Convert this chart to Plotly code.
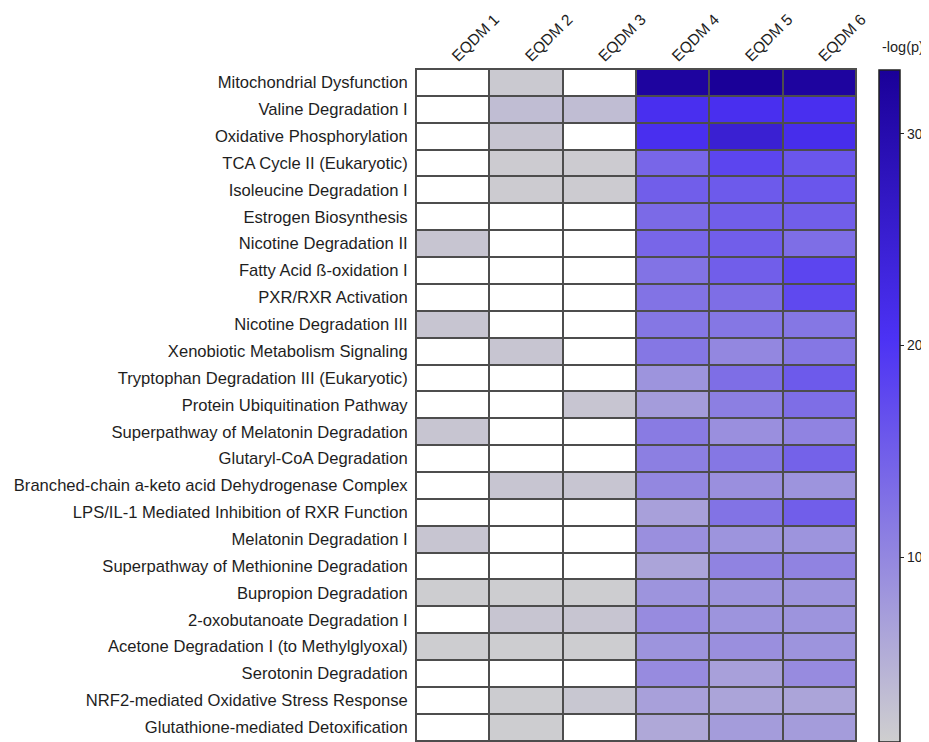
import plotly.graph_objects as go

pathways = [
    "Mitochondrial Dysfunction",
    "Valine Degradation I",
    "Oxidative Phosphorylation",
    "TCA Cycle II (Eukaryotic)",
    "Isoleucine Degradation I",
    "Estrogen Biosynthesis",
    "Nicotine Degradation II",
    "Fatty Acid ß-oxidation I",
    "PXR/RXR Activation",
    "Nicotine Degradation III",
    "Xenobiotic Metabolism Signaling",
    "Tryptophan Degradation III (Eukaryotic)",
    "Protein Ubiquitination Pathway",
    "Superpathway of Melatonin Degradation",
    "Glutaryl-CoA Degradation",
    "Branched-chain a-keto acid Dehydrogenase Complex",
    "LPS/IL-1 Mediated Inhibition of RXR Function",
    "Melatonin Degradation I",
    "Superpathway of Methionine Degradation",
    "Bupropion Degradation",
    "2-oxobutanoate Degradation I",
    "Acetone Degradation I (to Methylglyoxal)",
    "Serotonin Degradation",
    "NRF2-mediated Oxidative Stress Response",
    "Glutathione-mediated Detoxification",
]

samples = ["EQDM 1", "EQDM 2", "EQDM 3", "EQDM 4", "EQDM 5", "EQDM 6"]

N = None
eqdm1 = [N, N, N, N, N, N, 2.5, N, N, 2.5, N, N, N, 2.5, N, N, N, 2.5, N, 1.6, N, 1.6, N, N, N]
eqdm2 = [2.0, 3.5, 2.5, 1.8, 1.8, N, N, N, N, N, 2.5, N, N, N, N, 2.5, N, N, N, 1.6, 2.5, 1.6, N, 1.7, 1.6]
eqdm3 = [N, 3.5, N, 1.8, 1.8, N, N, N, N, N, N, N, 2.5, N, N, 2.5, N, N, N, 1.6, 2.5, 1.6, N, 2.3, N]
eqdm4 = [32, 21, 21, 14, 15, 13.5, 14, 12.5, 12.5, 12, 12, 8.5, 7.5, 11.5, 11, 10, 7, 9, 6.5, 8.5, 9.5, 8.5, 9.5, 7, 6]
eqdm5 = [33, 21, 25, 18, 15.5, 15, 15, 15, 13, 12, 10, 13, 11, 9, 12, 9, 12.5, 8.5, 10.5, 8.5, 8.5, 9, 7, 6.5, 7.5]
eqdm6 = [32, 21, 21.5, 16, 16, 15, 13, 18, 17.5, 12, 12, 15.5, 13, 10.5, 14.5, 8.5, 15, 8.5, 10.5, 8.5, 8.5, 8.5, 9.5, 6.5, 7.5]

cols = [eqdm1, eqdm2, eqdm3, eqdm4, eqdm5, eqdm6]
z = [[cols[c][r] for c in range(len(samples))] for r in range(len(pathways))]
z_blank = [[1 if cols[c][r] is None else None for c in range(len(samples))] for r in range(len(pathways))]

FONT = "Liberation Sans, Arial, Helvetica, sans-serif"
GRID = "#4d4d4d"
TXT = "#1e1e1e"

fig = go.Figure()
fig.add_trace(go.Heatmap(
    z=z_blank, x=samples, y=pathways,
    colorscale=[[0, "#ffffff"], [1, "#ffffff"]],
    showscale=False, xgap=2, ygap=2, hoverinfo="skip",
))
fig.add_trace(go.Heatmap(
    z=z, x=samples, y=pathways,
    zmin=1.3, zmax=33,
    colorscale=[[0, "#cfcfcf"], [0.6, "#4c32f4"], [1, "#1a0098"]],
    xgap=2, ygap=2,
    colorbar=dict(
        thickness=21, lenmode="pixels", len=672,
        x=1.052, xanchor="left", xpad=0,
        y=0, yanchor="bottom", ypad=0,
        outlinecolor="#222222", outlinewidth=1.5,
        tickvals=[10, 20, 30], ticks="outside", ticklen=4, tickcolor="#222222",
        tickfont=dict(family=FONT, size=14, color=TXT),
    ),
))

# outer frame (open at the bottom, where the reference is cropped)
fig.add_shape(type="path", xref="paper", yref="paper",
              path="M 0 0 L 0 1 L 1 1 L 1 0",
              line=dict(color=GRID, width=2))

fig.add_annotation(text="-log(p)", xref="paper", yref="paper", x=1.107, y=1.033,
                   showarrow=False, font=dict(family=FONT, size=14.5, color=TXT),
                   xanchor="center", yanchor="middle")

# page body has an 8px margin: offset the figure so the plot area lands where the reference has it
fig.update_layout(
    width=921, height=734,
    margin=dict(l=408, r=73, t=61, b=0),
    paper_bgcolor="white", plot_bgcolor=GRID,
    font=dict(family=FONT, size=16, color=TXT),
)
fig.update_xaxes(side="top", tickangle=-45, showgrid=False, zeroline=False,
                 ticks="", tickfont=dict(size=15.5), showline=False)
fig.update_yaxes(autorange=False, range=[24.55, -0.5], showgrid=False, zeroline=False,
                 ticks="outside", ticklen=4, tickcolor="rgba(0,0,0,0)",
                 tickfont=dict(size=16.6), showline=False)

fig.write_html("out.html")
